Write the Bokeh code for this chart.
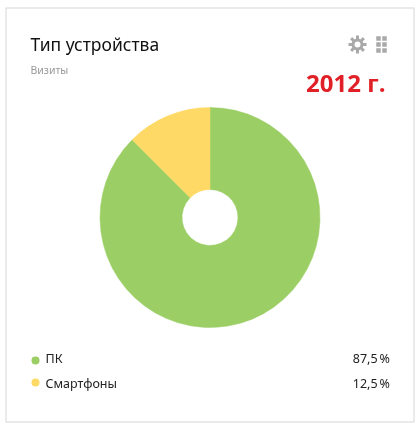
from math import pi
import numpy as np
from bokeh.plotting import figure
from bokeh.models import Range1d, ColumnDataSource
from bokeh.core.properties import value
from bokeh.embed import file_html
from bokeh.resources import INLINE

categories = ["ПК", "Смартфоны"]
shares = [87.5, 12.5]
share_labels = ["87,5\u202f%", "12,5\u202f%"]
colors = ["#9bce65", "#ffd966"]
title = "Тип устройства"
subtitle = "Визиты"
year = "2012 г."

W, H = 419, 428
p = figure(width=W, height=H, output_backend="svg", toolbar_location=None,
           x_range=Range1d(0, W), y_range=Range1d(H, 0), min_border=0)
p.styles = {"position": "fixed", "left": "0", "top": "0"}
p.axis.visible = False
p.grid.visible = False
p.outline_line_color = None
p.background_fill_color = "white"
p.border_fill_color = "white"

p.quad(left=[5.5], right=[413.5], top=[7.5], bottom=[421.5], fill_color="white", line_color="#e4e4e4", line_width=1.5)

# wedges: angles are measured on screen, anticlockwise; slices run clockwise from 12 o'clock
frac = np.array(shares) / sum(shares)
ends = np.cumsum(frac) * 2 * pi
starts = ends - frac * 2 * pi
src = ColumnDataSource(dict(s=pi/2 - ends, e=pi/2 - starts, c=colors))
p.annular_wedge(x=209.5, y=217, inner_radius=28, outer_radius=110, start_angle="s", end_angle="e",
                direction="anticlock", fill_color="c", line_color="c", line_width=0.5, source=src)

def txt(x, y, t, size, color, font="Open Sans", style="normal", align="left"):
    p.text(x=[x], y=[y], text=[t], text_font=value(font), text_font_size=f"{size}px", text_color=color,
           text_font_style=style, text_align=align, text_baseline="middle")

txt(30, 43, title, 17.5, "#111111", "Noto Sans")
txt(30, 69, subtitle, 10.5, "#999999", "Noto Sans")
txt(385, 81.5, year, 24, "#e01f26", "Open Sans", "bold", "right")

ys = [358, 383]
p.scatter(x=[35, 35], y=[360, 382], size=8, color=colors, line_color=None)
for y, c, s in zip(ys, categories, share_labels):
    txt(45, y, c, 12.5, "#222222", "Noto Sans")
    txt(389.5, y, s, 12.5, "#222222", "Noto Sans", align="right")

# icons
gx, gy = 357, 44
for a in np.arange(8) * pi / 4:
    p.ray(x=[gx + 5*np.cos(a)], y=[gy + 5*np.sin(a)], length=4, angle=[-a], line_color="#a9a9a9", line_width=3)
p.scatter(x=[gx], y=[gy], size=9, fill_color="white", line_color="#a9a9a9", line_width=3)
for x in (378, 384):
    p.scatter(x=[x, x, x], y=[38, 44, 50], marker="square", size=4.5, color="#a9a9a9", line_color=None)

open("out.html", "w").write(file_html(p, INLINE))
